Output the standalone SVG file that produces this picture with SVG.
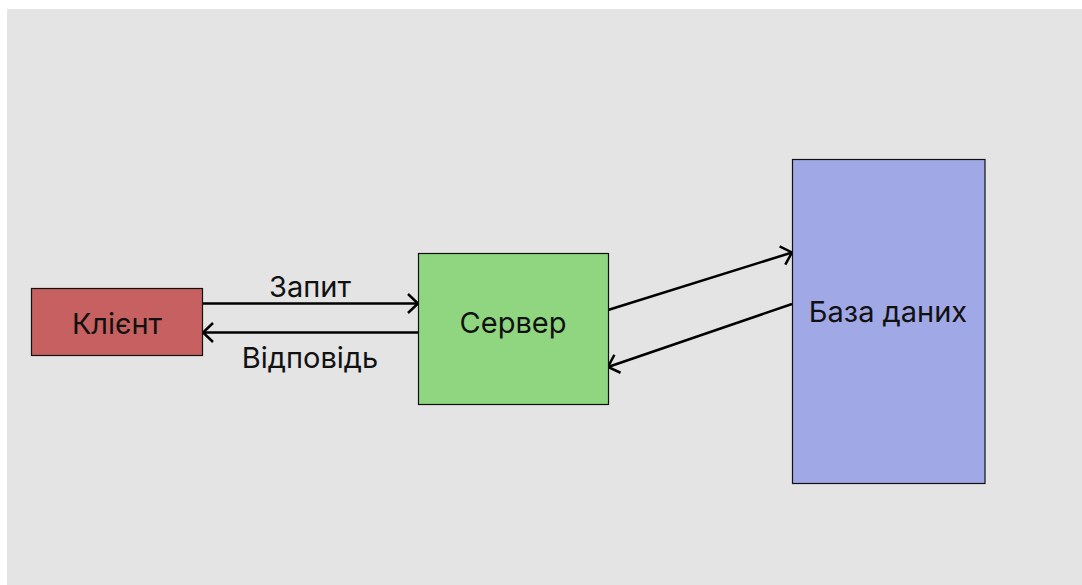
<svg xmlns="http://www.w3.org/2000/svg" width="1082" height="585" viewBox="0 0 1082 585">
<defs>
<style>
.node{stroke:#111;stroke-width:1.2}
.lbl{font-family:Inter,"Liberation Sans",sans-serif;font-size:29px;fill:#111;text-anchor:middle;dominant-baseline:central}
.edge{stroke:#000;stroke-width:2.5;fill:none;marker-end:url(#arr)}
</style>
<marker id="arr" viewBox="0 0 13 22" refX="11.5" refY="11" markerWidth="13" markerHeight="22" markerUnits="userSpaceOnUse" orient="auto">
<path d="M1.5,1.5 L11.5,11 L1.5,20.5" fill="none" stroke="#000" stroke-width="2.5"/>
</marker>
</defs>
<rect x="0" y="0" width="1082" height="585" fill="#fff"/>
<rect x="7" y="9" width="1075" height="576" fill="#e4e4e4"/>
<g id="connectors">
<line class="edge" x1="203" y1="303.5" x2="418" y2="303.5"/>
<line class="edge" x1="418" y1="332.5" x2="203" y2="332.5"/>
<line class="edge" x1="608" y1="310" x2="792" y2="252.5"/>
<line class="edge" x1="792" y1="304" x2="608" y2="367"/>
<text class="lbl" x="310" y="286">Запит</text>
<text class="lbl" x="310" y="357">Відповідь</text>
</g>
<g id="client">
<rect class="node" x="31.5" y="288.5" width="171" height="67" fill="#c76060"/>
<text class="lbl" x="117" y="323">Клієнт</text>
</g>
<g id="server">
<rect class="node" x="418.5" y="253.5" width="190" height="151" fill="#90d680"/>
<text class="lbl" x="513" y="322">Сервер</text>
</g>
<g id="database">
<rect class="node" x="792.5" y="159.5" width="192.5" height="324" fill="#a0a8e6"/>
<text class="lbl" x="888" y="311">База даних</text>
</g>
</svg>
